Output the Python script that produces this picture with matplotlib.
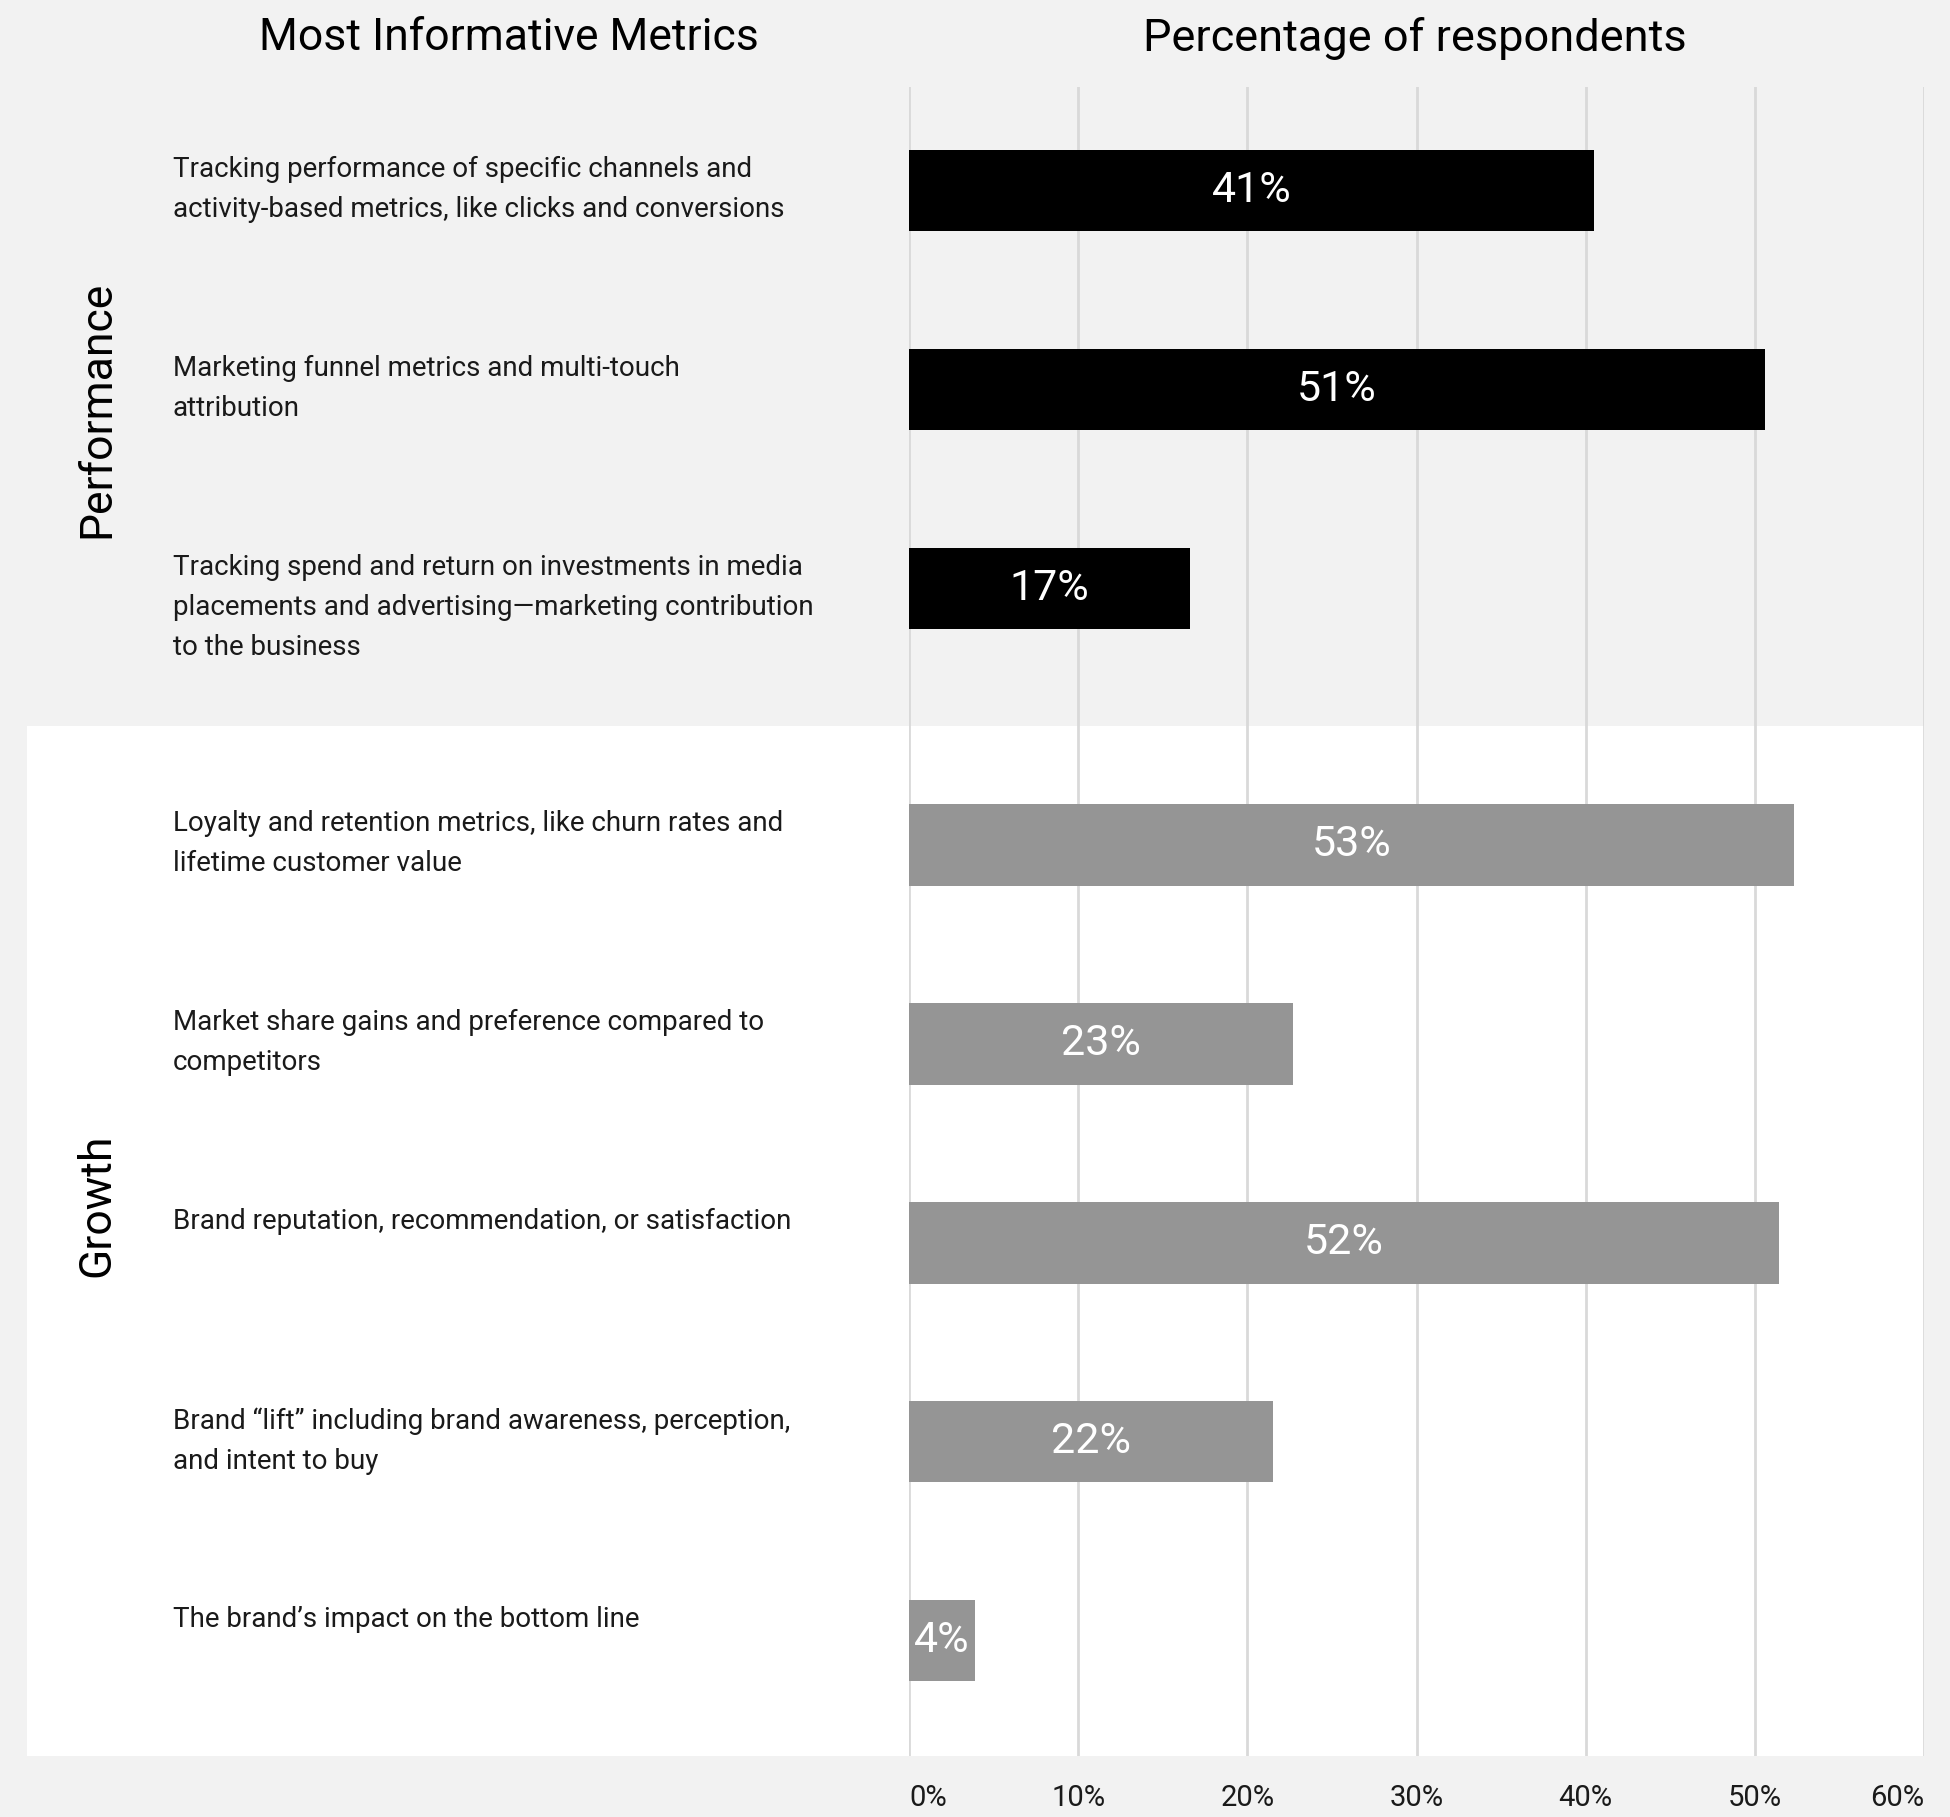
import matplotlib
matplotlib.use("Agg")
import matplotlib.pyplot as plt
from matplotlib.patches import Rectangle
from matplotlib.transforms import blended_transform_factory, offset_copy

plt.rcParams['font.family'] = ['Roboto', 'DejaVu Sans']

# data
perf_labels = [
    "Tracking performance of specific channels and\nactivity-based metrics, like clicks and conversions",
    "Marketing funnel metrics and multi-touch\nattribution",
    "Tracking spend and return on investments in media\nplacements and advertising\u2014marketing contribution\nto the business",
]
perf_values = [40.5, 50.6, 16.6]
perf_text = ["41%", "51%", "17%"]

growth_labels = [
    "Loyalty and retention metrics, like churn rates and\nlifetime customer value",
    "Market share gains and preference compared to\ncompetitors",
    "Brand reputation, recommendation, or satisfaction",
    "Brand \u201clift\u201d including brand awareness, perception,\nand intent to buy",
    "The brand\u2019s impact on the bottom line",
]
growth_values = [52.3, 22.7, 51.4, 21.5, 3.9]
growth_text = ["53%", "23%", "52%", "22%", "4%"]

xticks = [0, 10, 20, 30, 40, 50, 60]
xtick_labels = ["0%", "10%", "20%", "30%", "40%", "50%", "60%"]

# layout
W, H = 1950, 1817
perf_y = [0, 1, 2]
growth_y = [3.29, 4.29, 5.29, 6.29, 7.29]
bar_h = 0.41

fig = plt.figure(figsize=(W / 100, H / 100), dpi=100, facecolor='#f2f2f2')
ax = fig.add_axes([909 / W, 1 - 1756 / H, (1924 - 909) / W, (1756 - 87) / H])
ax.patch.set_visible(False)
ax.set_xlim(0, 60)
ax.set_ylim(7.87, -0.52)

# white panel behind growth group
trans = blended_transform_factory(fig.transFigure, ax.transData)
panel = Rectangle((27 / W, 2.69), 1924 / W - 27 / W, 7.87 - 2.69,
                  transform=trans, facecolor='white', edgecolor='none', zorder=-1)
fig.patches.append(panel)

ax.barh(perf_y, perf_values, height=bar_h, color='black', zorder=3)
ax.barh(growth_y, growth_values, height=bar_h, color='#959595', zorder=3)

for y, v, t in zip(perf_y + growth_y, perf_values + growth_values, perf_text + growth_text):
    ax.text(v / 2, y, t, ha='center', va='center', color='white',
            fontsize=31, zorder=4)

for y, lab in zip(perf_y + growth_y, perf_labels + growth_labels):
    ax.annotate(lab, xy=(173 / W, y), xycoords=trans, xytext=(0, 25),
                textcoords='offset points', ha='left', va='top',
                fontsize=20, linespacing=1.62, color='#1a1a1a')

ax.text(97 / W, 1.1, "Performance", transform=trans, rotation=90,
        ha='center', va='center', fontsize=32)
ax.text(97 / W, 5.1, "Growth", transform=trans, rotation=90,
        ha='center', va='center', fontsize=32)

fig.text(509 / W, 1 - 38 / H, "Most Informative Metrics", ha='center', va='center',
         fontsize=32)
fig.text(1415 / W, 1 - 38 / H, "Percentage of respondents", ha='center', va='center',
         fontsize=32.5)

ax.set_xticks(xticks)
ax.set_xticklabels(xtick_labels, fontsize=21, color='#1a1a1a')
labels = ax.get_xticklabels()
labels[0].set_ha('left')
labels[0].set_transform(offset_copy(labels[0].get_transform(), fig=fig, x=5, units='dots'))
labels[-1].set_ha('right')
labels[-1].set_transform(offset_copy(labels[-1].get_transform(), fig=fig, x=16, units='dots'))
ax.tick_params(axis='x', length=0, pad=20)
ax.set_yticks([])
ax.xaxis.grid(True, color='#d9d9d9', linewidth=2, zorder=1)
ax.set_axisbelow(True)
for s in ax.spines.values():
    s.set_visible(False)

fig.savefig("out.png", dpi=100, facecolor=fig.get_facecolor())
